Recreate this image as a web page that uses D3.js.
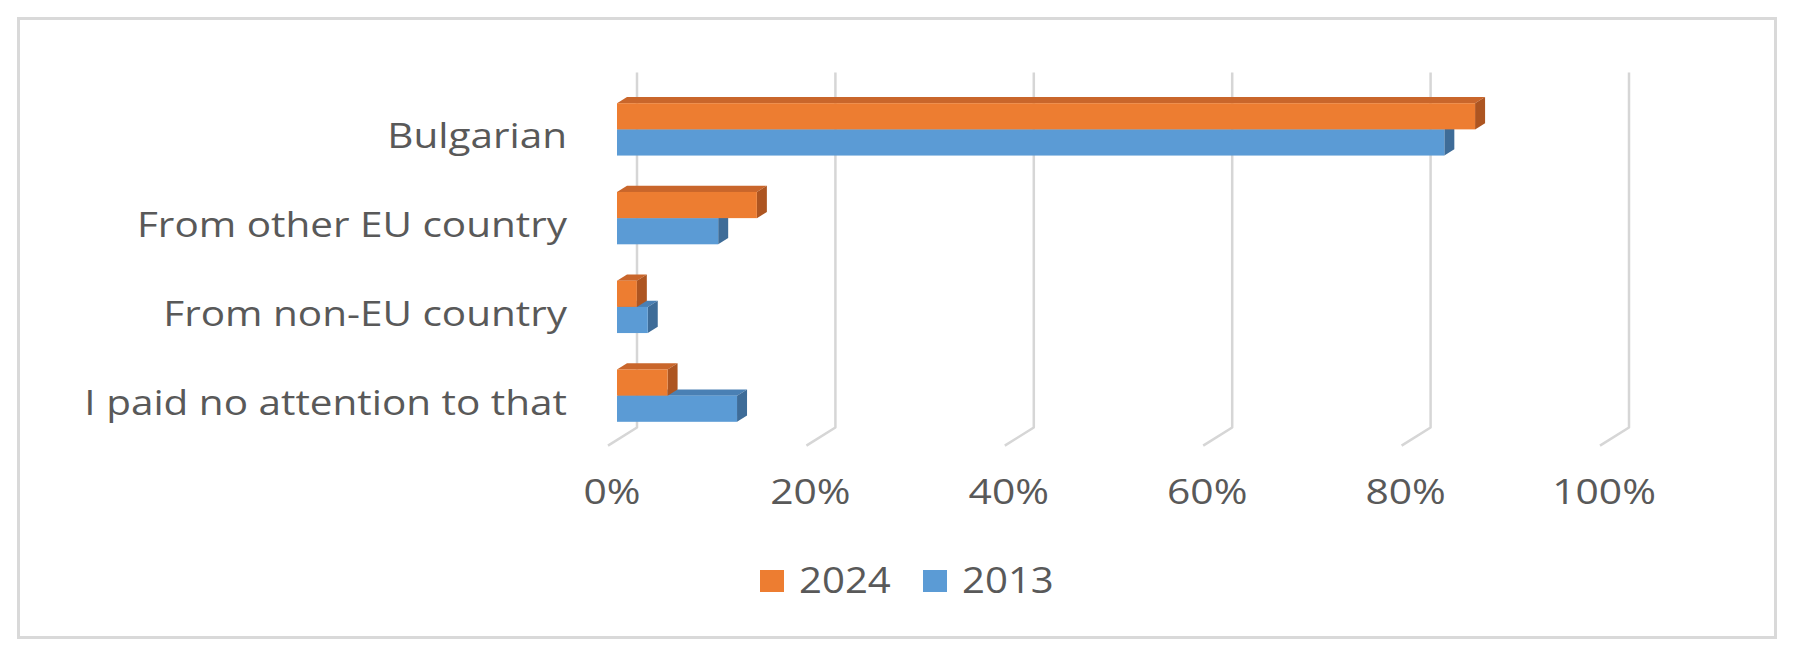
<!DOCTYPE html>
<html>
<head>
<meta charset="utf-8">
<script src="https://cdn.jsdelivr.net/npm/d3@7/dist/d3.min.js"></script>
<style>
  html, body { margin: 0; padding: 0; background: #ffffff; }
  svg { display: block; }
  text { font-family: "Open Sans", "Noto Sans", sans-serif; fill: #595959; }
</style>
</head>
<body>
<svg id="chart" width="1797" height="659"></svg>
<script>
// ---- data ----
const categories = ["Bulgarian", "From other EU country", "From non-EU country", "I paid no attention to that"];
const seriesNames = ["2024", "2013"];
const values2024 = [0.865, 0.141, 0.020, 0.051];
const values2013 = [0.834, 0.102, 0.031, 0.121];
const tickValues = [0, 0.2, 0.4, 0.6, 0.8, 1.0];
const tickLabels = ["0%", "20%", "40%", "60%", "80%", "100%"];

const seriesValues = [values2024, values2013];
const frontColors = ["#ED7D31", "#5B9BD5"];
const topColors = ["#c9662b", "#4a80b4"];
const sideColors = ["#ad5521", "#3e6c98"];

// ---- layout ----
const svg = d3.select("#chart");
const W = 1797, H = 659;

svg.append("rect").attr("x", 0).attr("y", 0).attr("width", W).attr("height", H).attr("fill", "#fff");
svg.append("rect")
  .attr("x", 18.5).attr("y", 18.5).attr("width", 1757).attr("height", 619)
  .attr("fill", "#fff").attr("stroke", "#d9d9d9").attr("stroke-width", 3);

// front plane scales (plane of bars' front faces)
const x = d3.scaleLinear().domain([0, 1]).range([617, 1609]);
const y = d3.scaleBand().domain(categories).range([85, 440]).paddingInner(0.41).paddingOuter(0.205);
const ys = d3.scaleBand().domain(seriesNames).range([0, y.bandwidth()]);

// oblique depth direction
const slope = 0.625;
const backDepth = 20;   // back wall
const floorDepth = -9;  // front edge of the floor
const barDepth = 10;    // bar thickness in depth

// gridlines on back wall + floor lines
const gTop = y.range()[0], gBot = y.range()[1];
const grid = svg.append("g");
tickValues.forEach(t => {
  const xb = x(t) + backDepth;
  const xf = x(t) + floorDepth;
  const p = d3.path();
  p.moveTo(xb, gTop - backDepth * slope);
  p.lineTo(xb, gBot - backDepth * slope);
  p.lineTo(xf, gBot - floorDepth * slope);
  grid.append("path").attr("d", p.toString())
    .attr("fill", "none").attr("stroke", "#d6d6d6").attr("stroke-width", 2.5)
    .attr("stroke-linejoin", "round");
});

// bars: draw lower series (2013) first, then 2024 on top
const bars = svg.append("g");
[1, 0].forEach(si => {
  categories.forEach((c, ci) => {
    const v = seriesValues[si][ci];
    const x0 = x(0), x1 = x(v);
    const y0 = y(c) + ys(seriesNames[si]);
    const h = ys.bandwidth();
    const dx = barDepth, dy = -barDepth * slope;
    bars.append("polygon")
      .attr("points", [[x0, y0], [x0 + dx, y0 + dy], [x1 + dx, y0 + dy], [x1, y0]].map(p => p.join(",")).join(" "))
      .attr("fill", topColors[si]);
    bars.append("polygon")
      .attr("points", [[x1, y0], [x1 + dx, y0 + dy], [x1 + dx, y0 + h + dy], [x1, y0 + h]].map(p => p.join(",")).join(" "))
      .attr("fill", sideColors[si]);
    bars.append("rect")
      .attr("x", x0).attr("y", y0).attr("width", x1 - x0).attr("height", h)
      .attr("fill", frontColors[si]);
  });
});

// category labels
const labelX = 567;
categories.forEach(c => {
  const base = y(c) + y.bandwidth() / 2 + 19;
  svg.append("text")
    .attr("transform", `translate(${labelX},${base}) scale(1.19,1)`)
    .attr("text-anchor", "end")
    .attr("font-size", 34)
    .text(c);
});

// tick labels
tickValues.forEach((t, i) => {
  svg.append("text")
    .attr("transform", `translate(${x(t) - 5},504) scale(1.2,1)`)
    .attr("text-anchor", "middle")
    .attr("font-size", 34)
    .text(tickLabels[i]);
});

// legend
const legend = svg.append("g");
const legendX = [760, 923];
seriesNames.forEach((s, i) => {
  legend.append("rect")
    .attr("x", legendX[i]).attr("y", 570).attr("width", 24).attr("height", 22)
    .attr("fill", frontColors[i]);
  legend.append("text")
    .attr("transform", `translate(${legendX[i] + 39},593) scale(1.1,1)`)
    .attr("font-size", 36.5)
    .text(s);
});
</script>
</body>
</html>
